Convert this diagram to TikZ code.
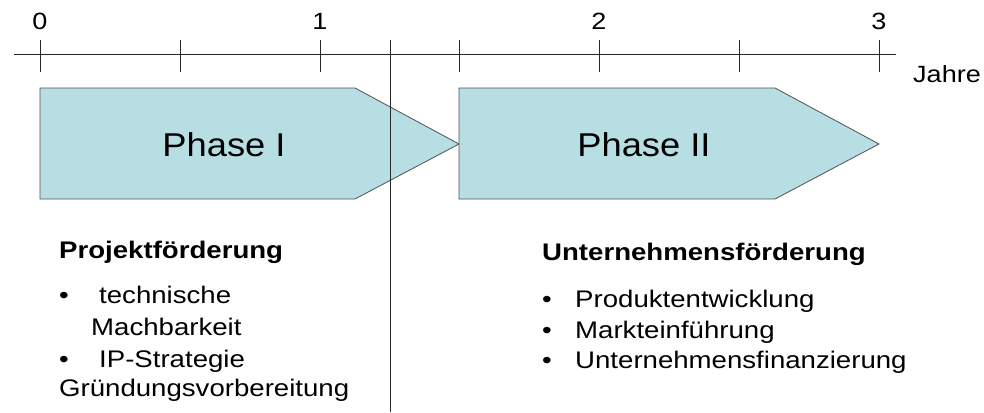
\documentclass[tikz,border=0pt]{standalone}
\usepackage{fontspec}
\setmainfont{Liberation Sans}
\newfontfamily\widefont[FakeStretch=1.15]{Liberation Sans}
\newfontfamily\phasefont[FakeStretch=1.1]{Liberation Sans}
\definecolor{phasefill}{HTML}{B7DFE3}
\definecolor{phaseline}{HTML}{505050}
\begin{document}
\begin{tikzpicture}[x=1pt,y=-1pt,
  axisline/.style={line width=1pt,black!85},
  tickline/.style={line width=1pt,black!85},
  ticklabel/.style={font=\widefont\fontsize{23.5}{23.5}\selectfont,anchor=base,inner sep=0pt},
  phasebox/.style={fill=phasefill,draw=phaseline,line width=0.8pt},
  phasetext/.style={font=\phasefont\fontsize{33}{33}\selectfont,inner sep=0pt},
  listtext/.style={font=\widefont\fontsize{24}{24}\selectfont,anchor=base west,inner sep=0pt},
  headtext/.style={font=\widefont\bfseries\fontsize{24}{24}\selectfont,anchor=base west,inner sep=0pt}]
\useasboundingbox (0,0) rectangle (984,412);
% axis
\coordinate (axL) at (14,55);
\coordinate (axR) at (896,55);
\draw[axisline] (axL) -- (axR);
\foreach \x in {40,180,320,459,599,739,879}{
  \draw[tickline] (\x,40) -- (\x,72);
}
\node[ticklabel] (t0) at (40,30) {0};
\node[ticklabel] (t1) at (320,30) {1};
\node[ticklabel] (t2) at (599,30) {2};
\node[ticklabel] (t3) at (879,30) {3};
\node[ticklabel,anchor=base west] (jahre) at (913,82) {Jahre};
% phases
\draw[phasebox] (40,88) -- (355,88) -- (459,144) -- (355,199) -- (40,199) -- cycle;
\draw[phasebox] (459,88) -- (775,88) -- (879,144) -- (775,199) -- (459,199) -- cycle;
\node[phasetext] (p1) at (224,145) {Phase I};
\node[phasetext] (p2) at (644,145) {Phase II};
% divider
\coordinate (dvT) at (390,40);
\coordinate (dvB) at (390,412);
\draw[axisline] (dvT) -- (dvB);
% left text
\node[headtext] (h1) at (59,258) {Projektförderung};
\node[listtext] (b1) at (59,303) {•};
\node[listtext] (l1) at (99,303) {technische};
\node[listtext] (l2) at (91,335) {Machbarkeit};
\node[listtext] (b2) at (59,367) {•};
\node[listtext] (l3) at (99,367) {IP-Strategie};
\node[listtext] (l4) at (59,396) {Gründungsvorbereitung};
% right text
\node[headtext] (h2) at (542,260) {Unternehmensförderung};
\node[listtext] (rb1) at (542,307) {•};
\node[listtext] (r1) at (575,307) {Produktentwicklung};
\node[listtext] (rb2) at (542,338) {•};
\node[listtext] (r2) at (575,338) {Markteinführung};
\node[listtext] (rb3) at (542,368) {•};
\node[listtext] (r3) at (575,368) {Unternehmensfinanzierung};
\end{tikzpicture}
\end{document}
